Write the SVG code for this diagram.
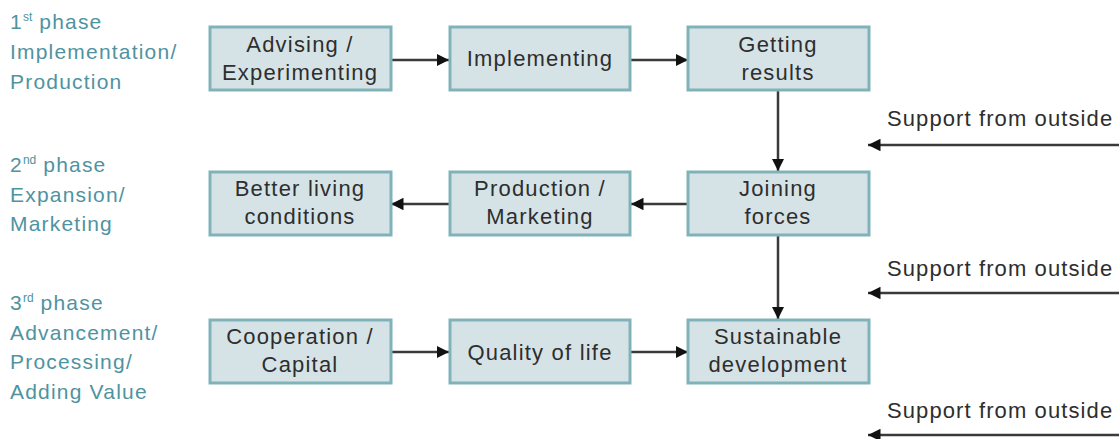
<svg xmlns="http://www.w3.org/2000/svg" width="1119" height="439" viewBox="0 0 1119 439">
<style>
.box{fill:#d6e3e6;stroke:#80b3b9;stroke-width:3}
.bt{font-family:"Liberation Sans",Arial,sans-serif;font-size:22px;letter-spacing:1.2px;fill:#2e2e2e;text-anchor:middle}
.lb{font-family:"Liberation Sans",Arial,sans-serif;font-size:21px;letter-spacing:1.2px;fill:#4f93a1}
.sup{font-size:12px;letter-spacing:0}
.st{font-family:"Liberation Sans",Arial,sans-serif;font-size:22px;letter-spacing:1.1px;fill:#2e2e2e}
.ln{stroke:#3a3a3a;stroke-width:2.5;fill:none;marker-end:url(#ah)}
</style>
<defs>
<marker id="ah" viewBox="0 0 10 10" refX="10" refY="5" markerWidth="5" markerHeight="5" orient="auto" markerUnits="strokeWidth">
<path d="M0,0 L10,5 L0,10 z" fill="#111"/>
</marker>
</defs>
<rect width="1119" height="439" fill="#ffffff"/>
<g id="labels">
<text class="lb" x="10" y="29">1<tspan class="sup" dy="-8">st</tspan><tspan dy="8"> phase</tspan></text>
<text class="lb" x="10" y="59">Implementation/</text>
<text class="lb" x="10" y="89">Production</text>
<text class="lb" x="10" y="172">2<tspan class="sup" dy="-8">nd</tspan><tspan dy="8"> phase</tspan></text>
<text class="lb" x="10" y="202">Expansion/</text>
<text class="lb" x="10" y="231">Marketing</text>
<text class="lb" x="10" y="310">3<tspan class="sup" dy="-8">rd</tspan><tspan dy="8"> phase</tspan></text>
<text class="lb" x="10" y="340">Advancement/</text>
<text class="lb" x="10" y="369">Processing/</text>
<text class="lb" x="10" y="399">Adding Value</text>
</g>
<g id="connectors">
<line class="ln" x1="391" y1="60" x2="449" y2="60"/>
<line class="ln" x1="630" y1="60" x2="688" y2="60"/>
<line class="ln" x1="778" y1="90" x2="778" y2="171"/>
<line class="ln" x1="688" y1="204" x2="631" y2="204"/>
<line class="ln" x1="450" y1="204" x2="391" y2="204"/>
<line class="ln" x1="778" y1="235" x2="778" y2="319"/>
<line class="ln" x1="391" y1="352" x2="449" y2="352"/>
<line class="ln" x1="630" y1="352" x2="688" y2="352"/>
<line class="ln" x1="1119" y1="145" x2="868" y2="145"/>
<line class="ln" x1="1119" y1="293" x2="868" y2="293"/>
<line class="ln" x1="1119" y1="435" x2="868" y2="435"/>
</g>
<g id="n1"><rect class="box" x="210" y="27" width="181" height="63"/><text class="bt" x="300" y="52">Advising /</text><text class="bt" x="300" y="80">Experimenting</text></g>
<g id="n2"><rect class="box" x="450" y="27" width="180" height="63"/><text class="bt" x="540" y="66">Implementing</text></g>
<g id="n3"><rect class="box" x="688" y="27" width="181" height="63"/><text class="bt" x="778" y="52">Getting</text><text class="bt" x="778" y="80">results</text></g>
<g id="n4"><rect class="box" x="210" y="172" width="181" height="63"/><text class="bt" x="300" y="196">Better living</text><text class="bt" x="300" y="224">conditions</text></g>
<g id="n5"><rect class="box" x="450" y="172" width="180" height="63"/><text class="bt" x="540" y="196">Production /</text><text class="bt" x="540" y="224">Marketing</text></g>
<g id="n6"><rect class="box" x="688" y="172" width="181" height="63"/><text class="bt" x="778" y="196">Joining</text><text class="bt" x="778" y="224">forces</text></g>
<g id="n7"><rect class="box" x="210" y="320" width="181" height="63"/><text class="bt" x="300" y="344">Cooperation /</text><text class="bt" x="300" y="372">Capital</text></g>
<g id="n8"><rect class="box" x="450" y="320" width="180" height="63"/><text class="bt" x="540" y="360">Quality of life</text></g>
<g id="n9"><rect class="box" x="688" y="320" width="181" height="63"/><text class="bt" x="778" y="344">Sustainable</text><text class="bt" x="778" y="372">development</text></g>
<g id="support">
<text class="st" x="887" y="126">Support from outside</text>
<text class="st" x="887" y="276">Support from outside</text>
<text class="st" x="887" y="418">Support from outside</text>
</g>
</svg>
